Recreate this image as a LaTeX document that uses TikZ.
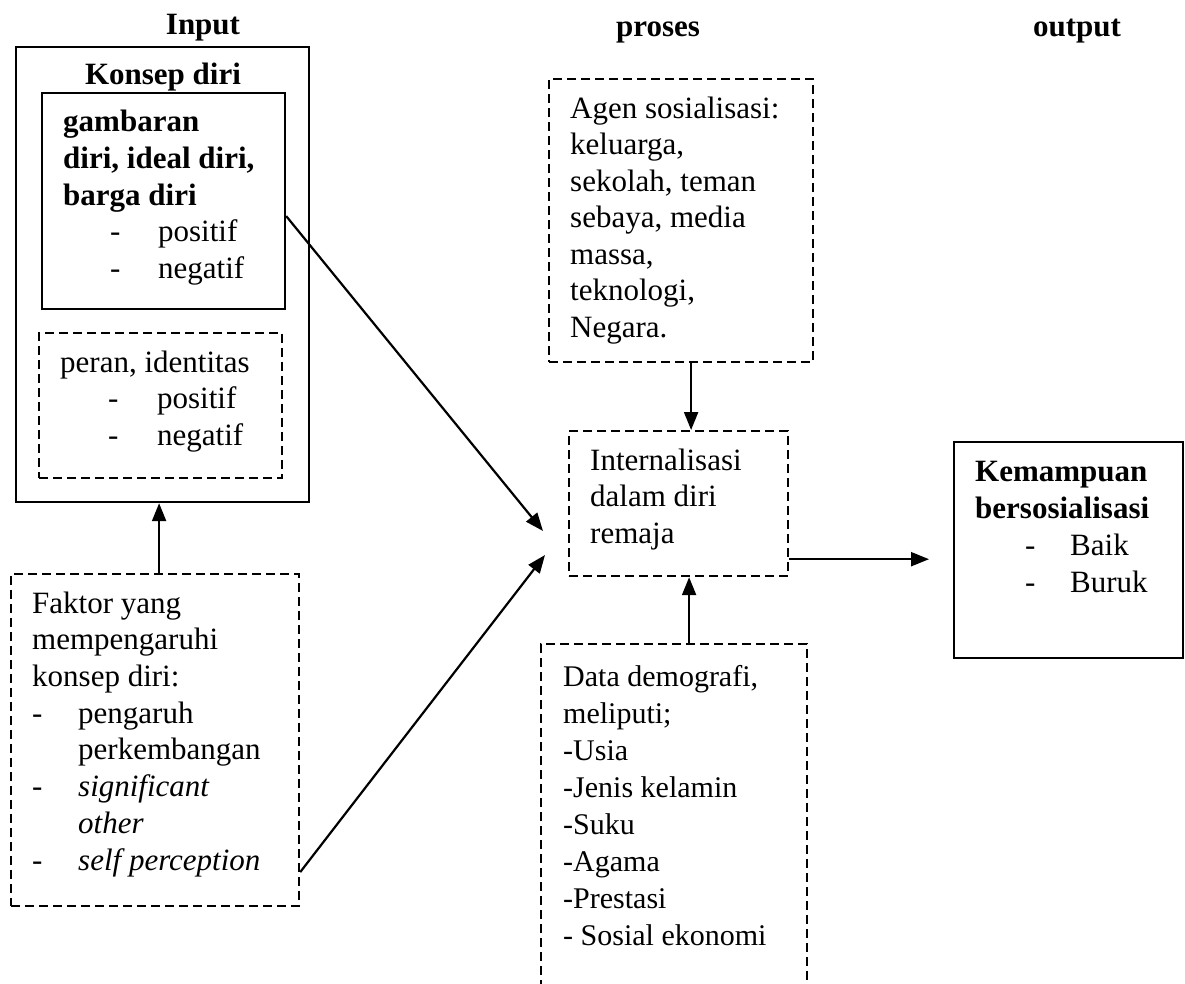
\documentclass[tikz,border=0pt]{standalone}
\usepackage{fontspec}
\setmainfont{Liberation Serif}
\usetikzlibrary{arrows.meta,calc}
\begin{document}
\begin{tikzpicture}[x=1pt,y=-1pt,
  box/.style={draw,line width=2.2pt,rectangle,inner sep=0pt,anchor=north west},
  dbox/.style={draw,line width=2.2pt,dash pattern=on 9pt off 5pt,rectangle,inner sep=0pt,anchor=north west},
  lt/.style={anchor=base west,inner sep=0pt,align=left,font=\fontsize{31}{36.5}\selectfont},
  ltb/.style={anchor=base,inner sep=0pt,font=\fontsize{31}{36.5}\selectfont\bfseries},
  arr/.style={line width=2.2pt,-{Triangle[length=18pt,width=14pt]}},
]
\clip (0,0) rectangle (1185,984);
\fill[white] (0,0) rectangle (1185,984);

% headings
\node[ltb] (hin) at (203,35) {Input};
\node[ltb] (hpro) at (658,37) {proses};
\node[ltb] (hout) at (1077,37) {output};

% boxes
\node[box,minimum width=293pt,minimum height=455pt] (outer) at (15,46) {};
\node[box,minimum width=243pt,minimum height=216pt] (inner) at (41,92) {};
\node[dbox,minimum width=243pt,minimum height=145pt] (peran) at (38,332) {};
\node[dbox,minimum width=288pt,minimum height=332pt] (faktor) at (10,573) {};
\node[dbox,minimum width=264pt,minimum height=283pt] (agen) at (548,78) {};
\node[dbox,minimum width=219pt,minimum height=145pt] (intern) at (568,430) {};
\node[box,minimum width=229pt,minimum height=216pt] (output) at (953,441) {};
\node[dbox,minimum width=266pt,minimum height=420pt] (data) at (540,643) {};

% texts (anchor = baseline of last line)
\node[ltb] (tkonsep) at (163,85) {Konsep diri};
\node[lt] (tgamb) at (63,278) {{\bfseries gambaran}\\{\bfseries diri, ideal diri,}\\{\bfseries barga diri}\\
  \hspace*{47pt}\makebox[48pt][l]{-}positif\\\hspace*{47pt}\makebox[48pt][l]{-}negatif};
\node[lt] (tperan) at (60,445) {peran, identitas\\
  \hspace*{48pt}\makebox[49pt][l]{-}positif\\\hspace*{48pt}\makebox[49pt][l]{-}negatif};
\node[lt,font=\fontsize{31}{36.7}\selectfont] (tfaktor) at (32,870) {Faktor yang\\mempengaruhi\\konsep diri:\\
  \makebox[46pt][l]{-}pengaruh\\\hspace*{46pt}perkembangan\\
  \makebox[46pt][l]{-}\textit{significant}\\\hspace*{46pt}\textit{other}\\
  \makebox[46pt][l]{-}\textit{self perception}};
\node[lt] (tagen) at (570,337) {Agen sosialisasi:\\keluarga,\\sekolah, teman\\sebaya, media\\massa,\\teknologi,\\Negara.};
\node[lt] (tintern) at (590,543) {Internalisasi\\dalam diri\\remaja};
\node[lt,font=\fontsize{31}{36.7}\selectfont] (toutput) at (975,592) {{\bfseries Kemampuan}\\{\bfseries bersosialisasi}\\
  \hspace*{50pt}\makebox[45pt][l]{-}Baik\\\hspace*{50pt}\makebox[45pt][l]{-}Buruk};
\node[lt,font=\fontsize{30}{37}\selectfont] (tdata) at (563,945) {Data demografi,\\meliputi;\\-Usia\\-Jenis kelamin\\-Suku\\-Agama\\-Prestasi\\- Sosial ekonomi};

% connectors
\coordinate (t1) at (543,531);
\coordinate (t2) at (545,555);
\draw[arr] ($(faktor.north)+(4,0)$) -- ($(faktor.north |- outer.south)+(4,0)$);
\draw[arr] ($(agen.south)+(10,0)$) -- ($(agen.south |- intern.north)+(10,0)$);
\draw[arr] ($(data.north)+(15,0)$) -- ($(data.north |- intern.south)+(15,0)$);
\draw[arr] ($(intern.south east)+(0,-18)$) -- ($(intern.south east -| output.west)+(-24,-18)$);
\draw[arr] ($(inner.east)+(0,15)$) -- (t1);
\draw[arr] ($(faktor.east)+(0,132)$) -- (t2);
\end{tikzpicture}
\end{document}
